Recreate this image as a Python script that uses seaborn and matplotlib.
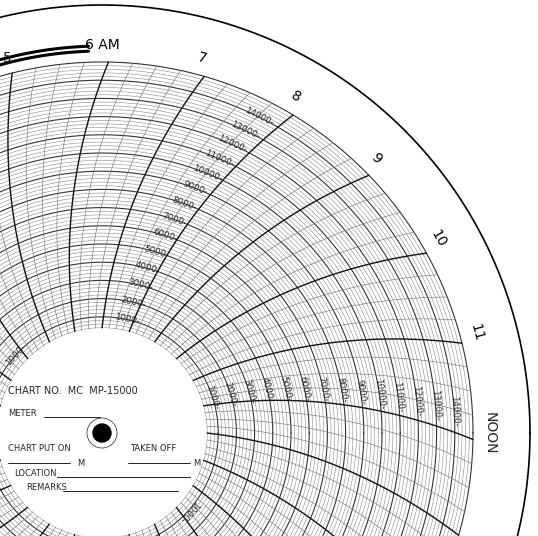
import numpy as np
import pandas as pd
import matplotlib
matplotlib.use("Agg")
import matplotlib.pyplot as plt
import seaborn as sns

# ─── DATA ────────────────────────────────────────────────────
HOURS = [6, 7, 8, 9, 10, 11]
HOUR_LABELS = ["6 AM", "7", "8", "9", "10", "11"]
SCALE_VALUES = [1000, 2000, 3000, 4000, 5000, 6000, 7000,
                8000, 9000, 10000, 11000, 12000, 13000, 14000]
SCALE_MAX = 15000
LABEL_COLUMN_HOURS = [8, 12, 16, 20, 24, 28]

# ─── GEOMETRY (pixel space) ─────────────────────────────────
CX, CY = 102, 433
R0, R1 = 98, 371          # radius of 0 and 15000
R_HUB = 104
R_EDGE = 428
CURVE = 0.06              # degrees per pixel of arc bend
W, H = 538, 536


def val_to_r(v):
    return R0 + (R1 - R0) * v / SCALE_MAX


def hour_angle(h):
    return 90 - 15 * (h - 6) - 1


def line_angle(h, r):
    return hour_angle(h) + CURVE * (R1 - r)


def pt(r, a):
    t = np.radians(a)
    return CX + r * np.cos(t), CY - r * np.sin(t)


sns.set_style("white")
fig = plt.figure(figsize=(5.38, 5.36), dpi=100)
ax = fig.add_axes([0, 0, 1, 1])

# outer edge (seaborn, no aggregation)
t = np.linspace(0, 2 * np.pi, 600)
edge = pd.DataFrame({"x": CX + R_EDGE * np.cos(t), "y": CY + R_EDGE * np.sin(t)})
sns.lineplot(data=edge, x="x", y="y", sort=False, estimator=None,
             color="black", lw=1.2, ax=ax)

# rings
for v in range(0, SCALE_MAX + 1, 200):
    r = val_to_r(v)
    major = v % 1000 == 0
    ax.plot(CX + r * np.cos(t), CY + r * np.sin(t),
            color="#333" if major else "#8a8a8a",
            lw=0.8 if major else 0.4, zorder=1)

# time lines
rr = np.linspace(R0, R1, 60)
for q in range(0, 24 * 4):
    h = q / 4
    xs, ys = pt(rr, line_angle(h, rr))
    bold = q % 4 == 0
    ax.plot(xs, ys, color="#111" if bold else "#777",
            lw=1.0 if bold else 0.45, zorder=2)

# hub
ax.add_patch(plt.Circle((CX, CY), R_HUB, color="white", zorder=3))
ax.add_patch(plt.Circle((CX, CY), 15, fill=False, ec="#444", lw=0.6, zorder=4))
ax.add_patch(plt.Circle((CX, CY), 9, color="black", zorder=4))

# hour labels
for h, lab in zip(HOURS, HOUR_LABELS):
    a = hour_angle(h) + 1
    x, y = pt(388, a)
    ax.text(x, y, lab, fontsize=10, ha="center", va="center", color="black",
            rotation=a - 90 if h > 6 else 0, zorder=5)
x, y = pt(388, hour_angle(12) + 1)
ax.text(x, y, "NOON", fontsize=10, ha="center", va="center", rotation=-90, zorder=5)

# scale labels (only those whose anchor lies well inside the picture)
for h in LABEL_COLUMN_HOURS:
    for v in SCALE_VALUES:
        r = val_to_r(v)
        a = line_angle(h, r) + 3.5
        x, y = pt(r, a)
        if not (12 < x < W - 12 and 12 < y < H - 14):
            continue
        ax.text(x, y, f"{v}-", fontsize=6.3, ha="center", va="center",
                rotation=a - 90, zorder=5, rotation_mode="anchor")

# pen trace near 6 AM
aa = np.linspace(hour_angle(6) + 3, hour_angle(6) + 20, 60)
for r in (382, 387):
    xs, ys = pt(r, aa)
    ax.plot(xs, ys, color="black", lw=2.2, zorder=5)
ax.text(3, 58, "5", fontsize=10, ha="left", va="center", zorder=6)

# hub text
fs = 6
ax.text(8, 394, "CHART NO.  MC  MP-15000", fontsize=7, zorder=6)
ax.text(8, 416, "METER", fontsize=fs, zorder=6)
ax.plot([44, 75, 78, 100], [417, 417, 417, 417], color="black", lw=0.6, zorder=6)
ax.text(8, 451, "CHART PUT ON", fontsize=fs, zorder=6)
ax.text(130, 451, "TAKEN OFF", fontsize=fs, zorder=6)
ax.plot([8, 70], [463, 463], color="black", lw=0.6, zorder=6)
ax.text(77, 463, "M", fontsize=fs, va="center", zorder=6)
ax.plot([128, 190], [463, 463], color="black", lw=0.6, zorder=6)
ax.text(193, 463, "M", fontsize=fs, va="center", zorder=6)
ax.text(14, 476, "LOCATION", fontsize=fs, zorder=6)
ax.plot([57, 190], [477, 477], color="black", lw=0.6, zorder=6)
ax.text(26, 490, "REMARKS", fontsize=fs, zorder=6)
ax.plot([63, 178], [491, 491], color="black", lw=0.6, zorder=6)

ax.set_xlim(0, W)
ax.set_ylim(H, 0)
ax.axis("off")
fig.savefig("out.png", dpi=100)
